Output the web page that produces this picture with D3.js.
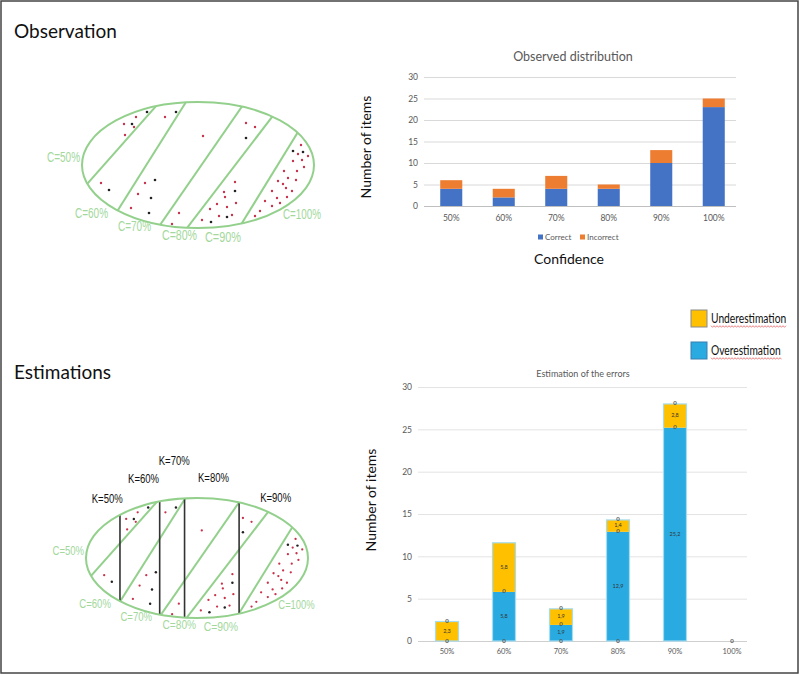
<!DOCTYPE html>
<html>
<head>
<meta charset="utf-8">
<script src="https://cdn.jsdelivr.net/npm/d3@7"></script>
<style>
  body { margin: 0; background: #fff; }
  svg { display: block; font-family: Lato, "Open Sans", sans-serif; }
</style>
</head>
<body>
<svg id="fig" width="800" height="675"></svg>
<script>
// --- data ---
const confLabels = ['50%', '60%', '70%', '80%', '90%', '100%'];
const correct = [4, 2, 4, 4, 10, 23];
const incorrect = [2, 2, 3, 1, 3, 2];
const yTicks = [0, 5, 10, 15, 20, 25, 30];

const overEst = [0, 5.8, 1.9, 12.9, 25.2, 0];
const underEst = [2.3, 5.8, 1.9, 1.4, 2.8, 0];
// little "0" markers sitting on the segment edges
const zeroMarks = [['50%', 0], ['50%', 2.3], ['60%', 0], ['60%', 5.8], ['70%', 0], ['70%', 1.9], ['70%', 3.8],
  ['80%', 0], ['80%', 12.9], ['80%', 14.3], ['90%', 25.2], ['90%', 28], ['100%', 0]];

// sketch units: ellipse box is 232 x 126
const slantLines = [[6, 81, 75, 3], [36, 108, 104, 0], [78, 123, 161, 3], [105, 126, 190, 15], [160, 121, 216, 30]];
const kLines = [35.5, 77, 103, 160];
const redDots = [[54, 15], [42, 22], [52, 25], [43, 33], [83, 15], [121, 34], [164, 21], [173, 25], [19, 81], [63, 81],
  [56, 92], [49, 106], [97, 111], [90, 122], [153, 80], [142, 90], [143, 95], [135, 102], [154, 101], [128, 107],
  [145, 105], [137, 114], [120, 118], [150, 113], [178, 109], [173, 114], [183, 99], [190, 104], [195, 96], [198, 101],
  [205, 95], [190, 89], [196, 79], [204, 86], [210, 89], [201, 82], [206, 76], [214, 78], [202, 69], [211, 59],
  [215, 69], [220, 58], [222, 65], [226, 54], [216, 52], [219, 43]];
const blackDots = [[65, 10], [50, 22], [94, 10], [164, 36], [27, 88], [73, 78], [69, 96], [67, 111], [153, 89],
  [145, 115], [129, 120], [211, 49], [221, 50]];
const cLabels = [['C=50%', -35, 60, 33], ['C=60%', -7, 116, 33], ['C=70%', 36, 129, 33], ['C=80%', 80, 138, 35],
  ['C=90%', 123, 140, 36], ['C=100%', 201, 117, 38]];
const kLabels = [['K=50%', 6, 5.5], ['K=60%', 44, -15.5], ['K=70%', 76, -35], ['K=80%', 117, -17], ['K=90%', 182, 4]];

const svg = d3.select('#fig');
const defs = svg.append('defs');
const fmtComma = v => d3.format('.1f')(v).replace('.', ',');

// frame
svg.append('rect').attr('x', 1).attr('y', 1).attr('width', 797).attr('height', 672)
  .attr('fill', 'none').attr('stroke', '#444').attr('stroke-width', 1.5);

// section titles
svg.append('text').attr('x', 14).attr('y', 38).attr('font-size', 19).attr('fill', '#111').text('Observation');
svg.append('text').attr('x', 14).attr('y', 379).attr('font-size', 19).attr('fill', '#111').text('Estimations');

// --- ellipse sketches ---
function drawSketch(id, xr, yr, withK) {
  const x = d3.scaleLinear().domain([0, 232]).range(xr);
  const y = d3.scaleLinear().domain([0, 126]).range(yr);
  const k = (xr[1] - xr[0]) / 232;
  const cx = x(116), cy = y(63), rx = (xr[1] - xr[0]) / 2, ry = (yr[1] - yr[0]) / 2;
  defs.append('clipPath').attr('id', id)
    .append('ellipse').attr('cx', cx).attr('cy', cy).attr('rx', rx).attr('ry', ry);

  const g = svg.append('g');
  const inner = g.append('g').attr('clip-path', `url(#${id})`);

  inner.selectAll('line.slant').data(slantLines).join('line')
    .attr('x1', d => x(d[0] - 0.3 * (d[2] - d[0]))).attr('y1', d => y(d[1] - 0.3 * (d[3] - d[1])))
    .attr('x2', d => x(d[2] + 0.3 * (d[2] - d[0]))).attr('y2', d => y(d[3] + 0.3 * (d[3] - d[1])))
    .attr('stroke', '#93d08c').attr('stroke-width', 2);

  if (withK) {
    inner.selectAll('line.k').data(kLines).join('line')
      .attr('x1', d => x(d)).attr('x2', d => x(d)).attr('y1', yr[0]).attr('y2', yr[1])
      .attr('stroke', '#333').attr('stroke-width', 1.6);
  }

  inner.selectAll('circle.red').data(redDots).join('circle')
    .attr('cx', d => x(d[0])).attr('cy', d => y(d[1])).attr('r', 1.2 * k).attr('fill', '#c8324b');
  inner.selectAll('circle.black').data(blackDots).join('circle')
    .attr('cx', d => x(d[0])).attr('cy', d => y(d[1])).attr('r', 1.3 * k).attr('fill', '#222');

  g.append('ellipse').attr('cx', cx).attr('cy', cy).attr('rx', rx).attr('ry', ry)
    .attr('fill', 'none').attr('stroke', '#93d08c').attr('stroke-width', 2);

  g.selectAll('text.c').data(cLabels).join('text')
    .attr('x', d => x(d[1])).attr('y', d => y(d[2]))
    .attr('font-family', '"Liberation Sans", Arial, sans-serif').attr('font-size', 14 * k)
    .attr('textLength', d => d[3] * k).attr('lengthAdjust', 'spacingAndGlyphs')
    .attr('fill', '#a3d89c').text(d => d[0]);

  if (withK) {
    g.selectAll('text.k').data(kLabels).join('text')
      .attr('x', d => x(d[1])).attr('y', d => y(d[2]))
      .attr('font-family', '"Liberation Sans", Arial, sans-serif').attr('font-size', 12)
      .attr('textLength', 31).attr('lengthAdjust', 'spacingAndGlyphs')
      .attr('fill', '#111').text(d => d[0]);
  }
}
drawSketch('clipTop', [82, 314], [102, 228], false);
drawSketch('clipBottom', [86, 308], [498, 618], true);

// --- observed distribution ---
{
  const x = d3.scaleBand().domain(confLabels).range([425, 740]);
  const y = d3.scaleLinear().domain([0, 30]).range([206, 77]);
  const g = svg.append('g');

  g.append('text').attr('x', 573).attr('y', 61).attr('text-anchor', 'middle')
    .attr('font-size', 12.5).attr('fill', '#595959').text('Observed distribution');

  const yAxis = g.append('g').attr('transform', 'translate(424,0)')
    .call(d3.axisLeft(y).tickValues(yTicks).tickSize(-312).tickPadding(6));
  yAxis.select('.domain').remove();
  yAxis.selectAll('line').attr('stroke', d => d === 0 ? '#bfbfbf' : '#d9d9d9');
  yAxis.selectAll('text').attr('font-size', 8.5).attr('fill', '#595959').attr('font-family', 'Lato');

  const xAxis = g.append('g').attr('transform', 'translate(0,206)')
    .call(d3.axisBottom(x).tickSize(0).tickPadding(9));
  xAxis.select('.domain').remove();
  xAxis.selectAll('text').attr('font-size', 8.5).attr('fill', '#595959').attr('font-family', 'Lato');

  const rows = confLabels.map((c, i) => ({ cat: c, correct: correct[i], incorrect: incorrect[i] }));
  const series = d3.stack().keys(['correct', 'incorrect'])(rows);
  const colors = { correct: '#4472c4', incorrect: '#ed7d31' };
  const bw = x.bandwidth() * 0.42;
  g.selectAll('g.s').data(series).join('g').attr('fill', d => colors[d.key])
    .selectAll('rect').data(d => d).join('rect')
    .attr('x', d => x(d.data.cat) + (x.bandwidth() - bw) / 2).attr('width', bw)
    .attr('y', d => y(d[1])).attr('height', d => y(d[0]) - y(d[1]));

  const leg = [['Correct', '#4472c4', 538], ['Incorrect', '#ed7d31', 580]];
  leg.forEach(([t, c, lx]) => {
    g.append('rect').attr('x', lx).attr('y', 234.5).attr('width', 5).attr('height', 5).attr('fill', c);
    g.append('text').attr('x', lx + 7).attr('y', 240).attr('font-size', 8).attr('fill', '#595959').text(t);
  });

  g.append('text').attr('x', 569).attr('y', 264).attr('text-anchor', 'middle')
    .attr('font-size', 14).attr('fill', '#111').text('Confidence');
  g.append('text').attr('transform', 'translate(371,147) rotate(-90)').attr('text-anchor', 'middle')
    .attr('font-size', 14).attr('fill', '#111').text('Number of items');
}

// --- estimation of the errors ---
{
  const x = d3.scaleBand().domain(confLabels).range([418.5, 760.5]);
  const y = d3.scaleLinear().domain([0, 30]).range([641, 387]);
  const g = svg.append('g');

  g.append('text').attr('x', 583).attr('y', 377).attr('text-anchor', 'middle')
    .attr('font-size', 9).attr('fill', '#595959').text('Estimation of the errors');

  const yAxis = g.append('g').attr('transform', 'translate(418,0)')
    .call(d3.axisLeft(y).tickValues(yTicks).tickSize(-329).tickPadding(6));
  yAxis.select('.domain').remove();
  yAxis.selectAll('line').attr('stroke', d => d === 0 ? '#cfcfcf' : '#e3e3e3');
  yAxis.selectAll('text').attr('font-size', 8.5).attr('fill', '#595959').attr('font-family', 'Lato');

  const xAxis = g.append('g').attr('transform', 'translate(0,641)')
    .call(d3.axisBottom(x).tickSize(0).tickPadding(8));
  xAxis.select('.domain').remove();
  xAxis.selectAll('text').attr('font-size', 7.5).attr('fill', '#595959').attr('font-family', 'Lato');

  const rows = confLabels.map((c, i) => ({ cat: c, over: overEst[i], under: underEst[i] }));
  const series = d3.stack().keys(['over', 'under'])(rows);
  const colors = { over: '#29abe2', under: '#ffc000' };
  const bw = 23;
  const bx = c => x(c) + (x.bandwidth() - bw) / 2;

  g.selectAll('g.s').data(series).join('g').attr('fill', d => colors[d.key])
    .selectAll('rect').data(d => d).join('rect')
    .attr('x', d => bx(d.data.cat)).attr('width', bw)
    .attr('y', d => y(d[1])).attr('height', d => y(d[0]) - y(d[1]));

  // light outline round each stack
  g.selectAll('rect.outline').data(rows.filter(d => d.over + d.under > 0)).join('rect')
    .attr('x', d => bx(d.cat)).attr('width', bw)
    .attr('y', d => y(d.over + d.under)).attr('height', d => y(0) - y(d.over + d.under))
    .attr('fill', 'none').attr('stroke', '#a6dcf0').attr('stroke-width', 1.2);

  // value labels
  const labels = [];
  series.forEach(s => s.forEach(d => {
    if (d[1] - d[0] > 0) labels.push({ cat: d.data.cat, mid: (d[0] + d[1]) / 2, v: d[1] - d[0] });
  }));
  g.selectAll('text.val').data(labels).join('text')
    .attr('x', d => x(d.cat) + x.bandwidth() / 2).attr('y', d => y(d.mid))
    .attr('text-anchor', 'middle').attr('dominant-baseline', 'middle')
    .attr('font-size', 5.5).attr('fill', '#333').text(d => fmtComma(d.v));

  g.selectAll('text.zero').data(zeroMarks).join('text')
    .attr('x', d => x(d[0]) + x.bandwidth() / 2).attr('y', d => y(d[1]))
    .attr('text-anchor', 'middle').attr('dominant-baseline', 'middle')
    .attr('font-size', 6).attr('font-weight', 'bold').attr('fill', '#555').text('0');

  g.append('text').attr('transform', 'translate(376,500) rotate(-90)').attr('text-anchor', 'middle')
    .attr('font-size', 14).attr('fill', '#111').text('Number of items');

  // legend with spell-check squiggles (text squeezed like the source)
  const leg = [['Underestimation', '#ffc000', '#8a8a8a', 310], ['Overestimation', '#29abe2', '#3a7fae', 342]];
  leg.forEach(([t, c, sc, ly]) => {
    g.append('rect').attr('x', 691).attr('y', ly).attr('width', 16).attr('height', 17)
      .attr('fill', c).attr('stroke', sc).attr('stroke-width', 1);
    const txt = g.append('text').attr('transform', `translate(711,${ly + 13}) scale(0.82,1)`)
      .attr('font-size', 12.5).attr('fill', '#111').text(t);
    const w = txt.node().getComputedTextLength() * 0.82;
    const pts = d3.range(0, w + 1, 1.5).map((px, i) => [711 + px, ly + 16.5 + (i % 2 ? 0.8 : -0.8)]);
    g.append('path').attr('d', d3.line()(pts)).attr('fill', 'none').attr('stroke', '#e05050').attr('stroke-width', 0.7);
  });
}
</script>
</body>
</html>
